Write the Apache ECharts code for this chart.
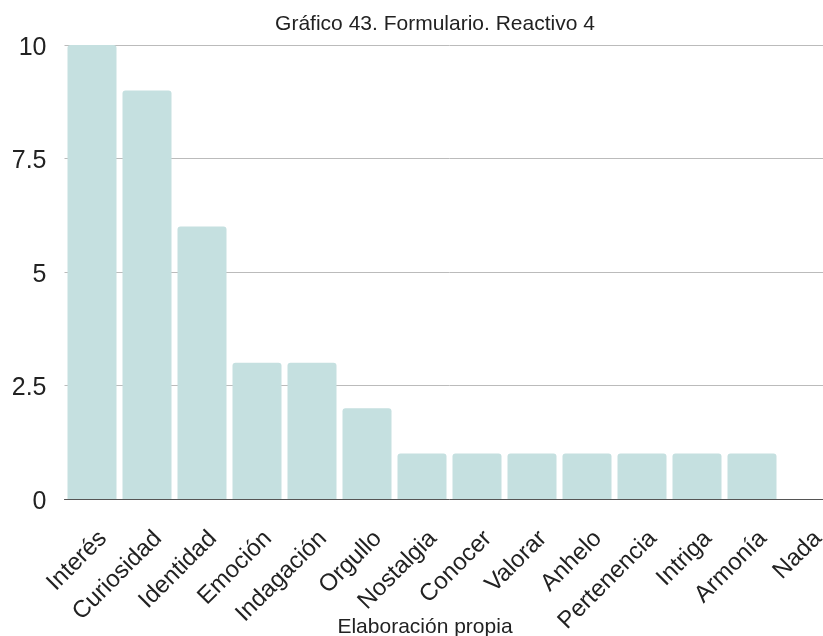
<!DOCTYPE html>
<html><head><meta charset="utf-8">
<script src="https://cdn.jsdelivr.net/npm/echarts@6/dist/echarts.min.js"></script>
<style>html,body{margin:0;padding:0;background:#fff;overflow:hidden}#c{width:860px;height:636px}</style>
</head><body><div id="c"></div>
<script>
const categories = ["Interés","Curiosidad","Identidad","Emoción","Indagación","Orgullo","Nostalgia","Conocer","Valorar","Anhelo","Pertenencia","Intriga","Armonía","Nada"];
const values = [10,9,6,3,3,2,1,1,1,1,1,1,1,0];
const yTicks = [0,2.5,5,7.5,10];
const chart = echarts.init(document.getElementById('c'));
const FONT = 'Liberation Sans, Arial, sans-serif';
chart.setOption({
  animation:false,
  textStyle:{fontFamily:FONT},
  title:[
    {text:'Gráfico 43. Formulario. Reactivo 4',left:430,top:9,textAlign:'center',
     textStyle:{fontSize:21,fontWeight:'normal',color:'#222',fontFamily:FONT}},
    {text:'Elaboración propia',left:420,top:612,textAlign:'center',
     textStyle:{fontSize:21,fontWeight:'normal',color:'#222',fontFamily:FONT}}
  ],
  grid:[
    {left:64.5,top:45,width:770,height:454,containLabel:false},
    {left:75.5,top:45,width:770,height:454,containLabel:false}
  ],
  xAxis:[
    {type:'category',data:categories,gridIndex:0,
     axisLine:{lineStyle:{color:'#555'}},axisTick:{show:false},axisLabel:{show:false}},
    {type:'category',data:categories,gridIndex:1,
     axisLine:{show:false},axisTick:{show:false},
     axisLabel:{rotate:45,interval:0,fontSize:24,color:'#222',margin:36,fontFamily:FONT}}
  ],
  yAxis:[
    {type:'value',min:0,max:10,interval:2.5,gridIndex:0,
     axisLabel:{fontSize:25,color:'#222',margin:18,
       formatter:v=>'{a|'+v+'}',
       rich:{a:{fontSize:25,color:'#222',fontFamily:FONT,padding:[6,0,0,0]}}},
     splitLine:{lineStyle:{color:'#bbb'}},axisLine:{show:false},axisTick:{show:false}},
    {type:'value',min:0,max:10,interval:2.5,gridIndex:1,show:false,splitLine:{show:false}}
  ],
  series:[{type:'bar',data:values,barWidth:49,xAxisIndex:0,yAxisIndex:0,
    itemStyle:{color:'#c5e0e0',borderRadius:[3,3,0,0]}}]
});
</script></body></html>
